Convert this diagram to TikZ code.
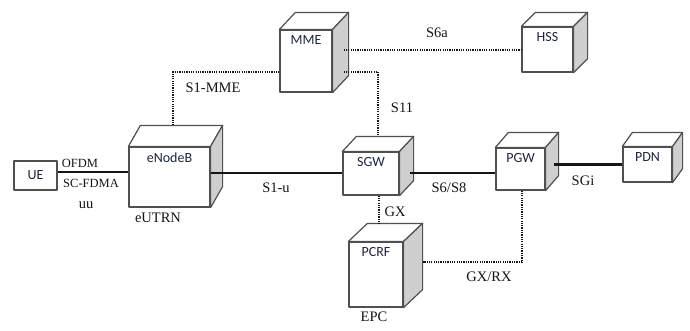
\documentclass[tikz,border=0pt]{standalone}
\usepackage{fontspec}
\setmainfont{Liberation Serif}
\newfontfamily\boxfont{Carlito}
\usetikzlibrary{calc}
\definecolor{edgegray}{HTML}{505050}
\definecolor{sidegray}{HTML}{CFCFCF}
\definecolor{boxtext}{HTML}{1E2540}
\definecolor{linecol}{HTML}{151515}
\tikzset{
  cubeedge/.style={draw=edgegray, line width=1.2pt, line join=round},
  cubefront/.style={cubeedge, fill=white, rectangle, inner sep=0pt},
  boxlabel/.style={anchor=center, yshift=-11pt, inner sep=0pt, text=boxtext,
    font=\boxfont\fontsize{14}{16}\selectfont},
  plainbox/.style={cubeedge, fill=white, rectangle, inner sep=0pt, text=boxtext,
    font=\boxfont\fontsize{14}{16}\selectfont},
  solidline/.style={draw=linecol, line width=1.5pt},
  thickline/.style={draw=linecol, line width=2.6pt},
  dotline/.style={draw=linecol, line width=1.2pt, dash pattern=on 1.2pt off 1.1pt},
  lbl/.style={inner sep=0pt, font=\fontsize{14.5}{17}\selectfont, text=linecol},
  smalllbl/.style={inner sep=0pt, font=\fontsize{12.5}{15}\selectfont, text=linecol},
}
\newcommand\cubeparts[3]{%
  \path[cubeedge, fill=white] (#1.north west) -- ++(#2,#3) -- ($(#1.north east)+(#2,#3)$) -- (#1.north east) -- cycle;
  \path[cubeedge, fill=sidegray] (#1.north east) -- ++(#2,#3) -- ($(#1.south east)+(#2,#3)$) -- (#1.south east) -- cycle;}
\begin{document}
\begin{tikzpicture}[x=1pt, y=-1pt]
\useasboundingbox[fill=white] (0,0) rectangle (690,330);

% plain UE box
\node[plainbox, minimum width=43pt, minimum height=29pt] (ue) at (35.5,175.5) {UE};

% cubes
\node[cubefront, minimum width=81pt, minimum height=60pt, label={[boxlabel]north:eNodeB}] (enb) at (169.5,177) {};
\cubeparts{enb}{12}{-21}
\node[cubefront, minimum width=52pt, minimum height=62pt, label={[boxlabel]north:MME}] (mme) at (306,61) {};
\cubeparts{mme}{16}{-17}
\node[cubefront, minimum width=51pt, minimum height=45pt, label={[boxlabel]north:HSS}] (hss) at (547.5,49.5) {};
\cubeparts{hss}{14}{-14}
\node[cubefront, minimum width=56pt, minimum height=43pt, label={[boxlabel]north:SGW}] (sgw) at (371,173.5) {};
\cubeparts{sgw}{14}{-15}
\node[cubefront, minimum width=49pt, minimum height=42pt, label={[boxlabel]north:PGW}] (pgw) at (520.5,169) {};
\cubeparts{pgw}{13}{-15}
\node[cubefront, minimum width=49pt, minimum height=35pt, label={[boxlabel]north:PDN}] (pdn) at (647.5,164.5) {};
\cubeparts{pdn}{10}{-14}
\node[cubefront, minimum width=54pt, minimum height=65pt, label={[boxlabel]north:PCRF}] (pcrf) at (376,274.5) {};
\cubeparts{pcrf}{19}{-18}

% solid connectors
\draw[solidline] ([yshift=3.5pt]ue.east) -- ([yshift=3.5pt]ue.east -| enb.west);
\draw[solidline] ([yshift=0.5pt]enb.east |- sgw.west) -- ([yshift=0.5pt]sgw.west);
\draw[solidline] ([xshift=10pt,yshift=0.5pt]sgw.east) -- ([yshift=0.5pt]sgw.east -| pgw.west);
\draw[thickline] ([xshift=8pt]pgw.east |- pdn.west) -- (pdn.west);

% dotted connectors
\draw[dotline] ($(enb.north)+(3.5,-21)$) |- ([yshift=-11pt]mme.west);
\draw[dotline] ([xshift=11pt,yshift=-0.5pt]mme.east |- hss.west) -- ([yshift=-0.5pt]hss.west);
\draw[dotline] ([xshift=11pt,yshift=-11pt]mme.east) -| ($(sgw.north)+(7,-15)$);
\draw[dotline] ($(sgw.south)+(8,0)$) -- ($(pcrf.north)+(3,-18)$);
\draw[dotline] ([xshift=1.5pt]pgw.south) |- ($(pcrf.east)+(19,-12.5)$);

% labels
\node[smalllbl] (lofdm) at (80,163) {OFDM};
\node[smalllbl] (lscf) at (91,183) {SC-FDMA};
\node[lbl] (luu) at (86,205) {uu};
\node[lbl] (leutrn) at (158,218) {eUTRN};
\node[lbl] (ls1mme) at (213,88) {S1-MME};
\node[lbl] (ls6a) at (437,33) {S6a};
\node[lbl] (ls11) at (402,108) {S11};
\node[lbl] (ls1u) at (276,188) {S1-u};
\node[lbl] (ls6s8) at (449,188) {S6/S8};
\node[lbl] (lgx) at (395,212) {GX};
\node[lbl] (lsgi) at (583,181) {SGi};
\node[lbl] (lgxrx) at (489,277) {GX/RX};
\node[lbl] (lepc) at (374,317) {EPC};
\end{tikzpicture}
\end{document}
